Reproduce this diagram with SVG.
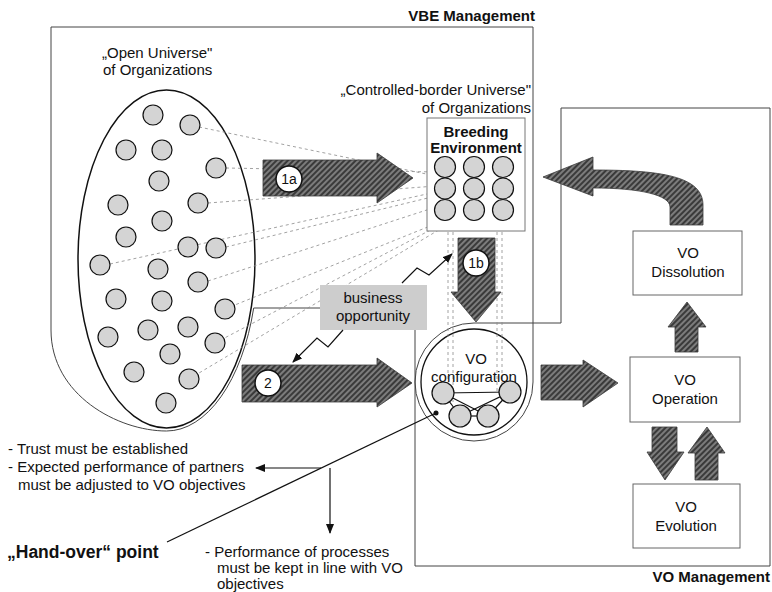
<svg xmlns="http://www.w3.org/2000/svg" width="772" height="592" viewBox="0 0 772 592">
<defs>
<style>
.t{font-family:"Liberation Sans",Arial,sans-serif;font-size:15px;fill:#111}
.b{font-weight:bold}
.m{text-anchor:middle}
.e{text-anchor:end}
.frame{fill:none;stroke:#444;stroke-width:1}
.org{fill:#d4d4d4;stroke:#111;stroke-width:1.2}
.dash{stroke:#8a8a8a;stroke-width:0.8;stroke-dasharray:3 3;fill:none}
.big{fill:url(#hatch);stroke:#3a3a3a;stroke-width:0.8}
.lbl{fill:#fff;stroke:#111;stroke-width:1.5}
.box{fill:#fff;stroke:#666;stroke-width:1}
.ln{stroke:#111;stroke-width:1.2;fill:none}
</style>
<pattern id="hatch" width="4" height="4" patternUnits="userSpaceOnUse" patternTransform="rotate(45)">
<rect width="4" height="4" fill="#7c7c7c"/>
<rect width="2" height="4" fill="#3a3a3a"/>
</pattern>
<marker id="ah" markerWidth="10" markerHeight="8" refX="9" refY="4" orient="auto" markerUnits="userSpaceOnUse">
<path d="M0,0 L10,4 L0,8 Z" fill="#111"/>
</marker>
</defs>
<rect width="772" height="592" fill="#fff"/>

<g id="vbe-management">
<path class="frame" d="M51,27 H533 V382 A59 59 0 0 1 415 382 V308 H253.7 A91 172 0 0 1 166.5 431 C118,431 51,395 51,330 Z"/>
<text class="t b e" x="535" y="21">VBE Management</text>
</g>

<g id="vo-management">
<path class="frame" d="M415,566 V382 A59 59 0 0 1 474 323 H561 V108 H770 V566 Z"/>
<text class="t b e" x="770" y="582">VO Management</text>
</g>

<g id="open-universe">
<ellipse cx="166.5" cy="259" rx="88.5" ry="169" fill="#fff" stroke="#111" stroke-width="1.5"/>
<text class="t" x="102" y="58">„Open Universe"</text>
<text class="t" x="103" y="75">of Organizations</text>
</g>

<g id="vo-configuration">
<circle cx="474" cy="382" r="53" fill="#fff" stroke="#111" stroke-width="1.3"/>
</g>

<g id="connectors">
<g id="dotted-links">
<line class="dash" x1="199" y1="127" x2="436" y2="176"/>
<line class="dash" x1="226" y1="168" x2="436" y2="172"/>
<line class="dash" x1="208" y1="203" x2="436" y2="186"/>
<line class="dash" x1="110" y1="264" x2="436" y2="192"/>
<line class="dash" x1="226" y1="247" x2="436" y2="196"/>
<line class="dash" x1="208" y1="281" x2="436" y2="207"/>
<line class="dash" x1="225" y1="309" x2="440" y2="222"/>
<line class="dash" x1="215" y1="343" x2="440" y2="225"/>
<line class="dash" x1="189" y1="379" x2="442" y2="228"/>
<line class="dash" x1="448" y1="220" x2="448" y2="392"/>
<line class="dash" x1="453" y1="220" x2="453" y2="402"/>
<line class="dash" x1="497" y1="220" x2="497" y2="392"/>
<line class="dash" x1="502" y1="220" x2="502" y2="396"/>
</g>
</g>

<g id="organizations">
<circle class="org" cx="153" cy="115" r="10"/>
<circle class="org" cx="190" cy="125" r="10"/>
<circle class="org" cx="126" cy="150" r="10"/>
<circle class="org" cx="162" cy="150" r="10"/>
<circle class="org" cx="216" cy="168" r="10"/>
<circle class="org" cx="159" cy="181" r="10"/>
<circle class="org" cx="118" cy="205" r="10"/>
<circle class="org" cx="198" cy="203" r="10"/>
<circle class="org" cx="162" cy="221" r="10"/>
<circle class="org" cx="126" cy="237" r="10"/>
<circle class="org" cx="188" cy="247" r="10"/>
<circle class="org" cx="216" cy="248" r="10"/>
<circle class="org" cx="100" cy="265" r="10"/>
<circle class="org" cx="158" cy="269" r="10"/>
<circle class="org" cx="198" cy="282" r="10"/>
<circle class="org" cx="116" cy="299" r="10"/>
<circle class="org" cx="162" cy="301" r="10"/>
<circle class="org" cx="225" cy="309" r="10"/>
<circle class="org" cx="108" cy="337" r="10"/>
<circle class="org" cx="148" cy="330" r="10"/>
<circle class="org" cx="188" cy="327" r="10"/>
<circle class="org" cx="215" cy="343" r="10"/>
<circle class="org" cx="170" cy="354" r="10"/>
<circle class="org" cx="134" cy="372" r="10"/>
<circle class="org" cx="189" cy="379" r="10"/>
<circle class="org" cx="166" cy="403" r="10"/>
</g>

<g id="breeding-environment">
<rect x="427" y="118" width="98" height="113" fill="#fff" stroke="#777" stroke-width="1"/>
<text class="t b m" x="476" y="137">Breeding</text>
<text class="t b m" x="476" y="153">Environment</text>
<circle class="org" cx="445" cy="167" r="10.5"/>
<circle class="org" cx="474" cy="167" r="10.5"/>
<circle class="org" cx="503" cy="167" r="10.5"/>
<circle class="org" cx="445" cy="188.5" r="10.5"/>
<circle class="org" cx="474" cy="188.5" r="10.5"/>
<circle class="org" cx="503" cy="188.5" r="10.5"/>
<circle class="org" cx="445" cy="210" r="10.5"/>
<circle class="org" cx="474" cy="210" r="10.5"/>
<circle class="org" cx="503" cy="210" r="10.5"/>
</g>

<g id="controlled-border-label">
<text class="t e" x="531" y="95">„Controlled-border Universe"</text>
<text class="t e" x="531" y="113">of Organizations</text>
</g>

<g id="business-opportunity">
<rect x="320" y="285" width="107" height="45" fill="#cdcdcd"/>
<text class="t m" x="373" y="303">business</text>
<text class="t m" x="373" y="321">opportunity</text>
</g>

<g id="vo-configuration-content">
<text class="t m" x="476" y="364">VO</text>
<text class="t m" x="474" y="382">configuration</text>
<line class="ln" x1="443" y1="393" x2="510" y2="392"/>
<line class="ln" x1="443" y1="393" x2="460" y2="416"/>
<line class="ln" x1="443" y1="393" x2="488" y2="416"/>
<line class="ln" x1="510" y1="392" x2="460" y2="416"/>
<line class="ln" x1="510" y1="392" x2="488" y2="416"/>
<line class="ln" x1="460" y1="416" x2="488" y2="416"/>
<circle class="org" cx="443" cy="393" r="11"/>
<circle class="org" cx="510" cy="392" r="11"/>
<circle class="org" cx="460" cy="416" r="11"/>
<circle class="org" cx="488" cy="416" r="11"/>
</g>

<g id="vo-dissolution">
<rect class="box" x="633" y="231" width="109" height="64"/>
<text class="t m" x="688" y="258">VO</text>
<text class="t m" x="688" y="277">Dissolution</text>
</g>
<g id="vo-operation">
<rect class="box" x="630" y="357" width="110" height="65"/>
<text class="t m" x="685" y="385">VO</text>
<text class="t m" x="685" y="404">Operation</text>
</g>
<g id="vo-evolution">
<rect class="box" x="633" y="484" width="107" height="64"/>
<text class="t m" x="686" y="512">VO</text>
<text class="t m" x="686" y="531">Evolution</text>
</g>

<g id="flow-arrows">
<path class="big" d="M263,160 H377 V153 L413,178 L377,203 V196 H263 Z"/>
<circle class="lbl" cx="289" cy="179" r="13"/>
<text class="t m" x="289" y="184" style="font-size:14px">1a</text>
<path class="big" d="M458,238 H495 V292 H501 L476,322 L451,292 H458 Z"/>
<circle class="lbl" cx="476" cy="263" r="13"/>
<text class="t m" x="476" y="268" style="font-size:14px">1b</text>
<path class="big" d="M242,365 H377 V358 L412,383 L377,407 V402 H242 Z"/>
<circle class="lbl" cx="268" cy="383" r="13"/>
<text class="t m" x="268" y="388" style="font-size:14px">2</text>
<path class="big" d="M541,365 H583 V360 L618,383 L583,407 V400 H541 Z"/>
<path class="big" d="M675,352 V327 H668 L687,302 L706,327 H698 V352 Z"/>
<path class="big" d="M652,427 H677 V452 H684 L665,480 L647,452 H652 Z"/>
<path class="big" d="M695,480 V453 H688 L707,427 L725,453 H718 V480 Z"/>
<path class="big" d="M543,177 L593,157 V170 C660,170 703,176 703,205 V225 H670 V207 C670,195 640,188 593,188 V196 Z"/>
<polyline class="ln" points="402,283 417,268 429,275 452,254" marker-end="url(#ah)"/>
<polyline class="ln" points="343,330 328,347 317,338 293,362" marker-end="url(#ah)"/>
<line class="ln" x1="167" y1="542" x2="436" y2="413"/>
<circle cx="436" cy="413" r="2.5" fill="#111"/>
<line class="ln" x1="321" y1="468" x2="256" y2="468" marker-end="url(#ah)"/>
<line class="ln" x1="330" y1="468" x2="330" y2="533" marker-end="url(#ah)"/>
</g>

<g id="notes">
<text class="t" x="8" y="454">- Trust must be established</text>
<text class="t" x="8" y="472">- Expected performance of partners</text>
<text class="t" x="18" y="490">must be adjusted to VO objectives</text>
<text class="t b" x="7" y="558" style="font-size:17.5px">„Hand-over“ point</text>
<text class="t" x="205" y="557">- Performance of processes</text>
<text class="t" x="217" y="573">must be kept in line with VO</text>
<text class="t" x="217" y="589">objectives</text>
</g>
</svg>
